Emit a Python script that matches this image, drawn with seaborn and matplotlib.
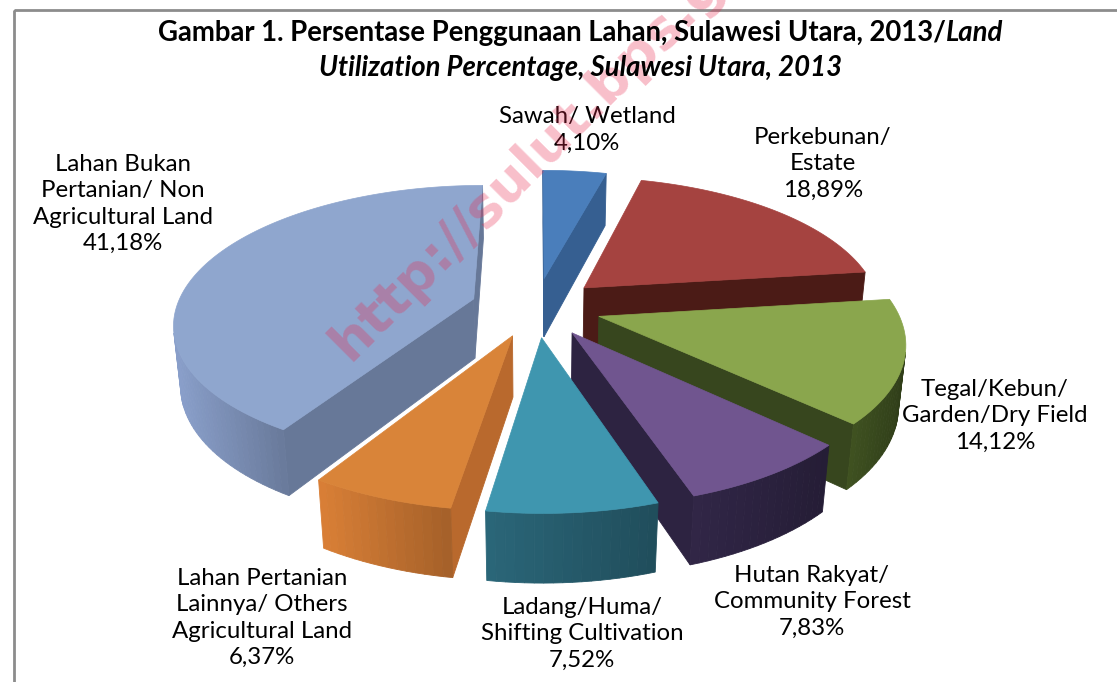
import numpy as np
import matplotlib
matplotlib.use("Agg")
import matplotlib.pyplot as plt
import seaborn as sns
from matplotlib.colors import to_rgb
from matplotlib.patches import Polygon, Rectangle

# data
categories = [
    "Sawah/ Wetland",
    "Perkebunan/\nEstate",
    "Tegal/Kebun/\nGarden/Dry Field",
    "Hutan Rakyat/\nCommunity Forest",
    "Ladang/Huma/\nShifting Cultivation",
    "Lahan Pertanian\nLainnya/ Others\nAgricultural Land",
    "Lahan Bukan\nPertanian/ Non\nAgricultural Land",
]
shares = [4.10, 18.89, 14.12, 7.83, 7.52, 6.37, 41.18]

title_main = "Gambar 1. Persentase Penggunaan Lahan, Sulawesi Utara, 2013/"
title_italic_1 = "Land"
title_italic_2 = "Utilization Percentage, Sulawesi Utara, 2013"
watermark = "http://sulut.bps.go.id"

# styles
top_colors = ["#4A7EBB", "#A54340", "#8AA64D", "#70558F", "#3F96AF", "#D98439", "#8FA6CE"]
radial_colors = ["#365F91", "#4B1B16", "#37461E", "#2D2341", "#2B6577", "#B9692D", "#677898"]
arc_colors = ["#365F91", "#4B1B16", "#3A4B1E", "#2D2341", "#275E6F", "#C87532", "#8094BC"]
label_xy = [(587, 130), (823, 164), (995, 416), (812, 602), (582, 634), (262, 618), (123, 204)]

W, H = 1117, 682
CX, CY = 536, 307          # pie centre on screen (px)
F, D = 1590, 5.35          # focal length, camera distance
TILT = np.radians(27)
THICK = 0.23
EXPLODE = 0.22

sns.set_theme(style="white")
plt.rcParams["font.family"] = ["Lato", "DejaVu Sans"]

sin_t, cos_t = np.sin(TILT), np.cos(TILT)
eye = np.array([0.0, -D * cos_t, D * sin_t])


def project(p):
    X, Y, Z = p
    zc = D + Y * cos_t - Z * sin_t
    return CX + F * X / zc, CY - F * (Y * sin_t + Z * cos_t) / zc


def depth(p):
    return D + p[1] * cos_t - p[2] * sin_t


def visible(normal, point):
    return np.dot(normal, eye - point) > 0


def shade(c, f):
    return tuple(np.clip(np.array(to_rgb(c)) * f, 0, 1))


fig = plt.figure(figsize=(W / 100, H / 100), dpi=100)
ax = fig.add_axes([0, 0, 1, 1])
ax.set_xlim(0, W)
ax.set_ylim(H, 0)
ax.axis("off")

# chart frame
ax.add_patch(Rectangle((14, 10), 1400, 1000, fill=False, edgecolor="#8c8c8c", lw=2))

# slice angles: start at 12 o'clock, clockwise
cum = np.concatenate([[0], np.cumsum(shares)]) / sum(shares) * 360
slices = []
for i in range(len(shares)):
    a1 = np.radians(90 - cum[i])
    a0 = np.radians(90 - cum[i + 1])
    mid = (a0 + a1) / 2
    off = EXPLODE * np.array([np.cos(mid), np.sin(mid), 0.0])
    cen = off + 0.5 * np.array([np.cos(mid), np.sin(mid), 0.0])
    slices.append((depth(cen), i, a0, a1, off))

# painter's order: far slices first
for _, i, a0, a1, off in sorted(slices, key=lambda s: -s[0]):
    n = max(3, int(np.degrees(a1 - a0) / 1.5))
    th = np.linspace(a0, a1, n + 1)
    rim = [off + np.array([np.cos(t), np.sin(t), 0.0]) for t in th]
    down = np.array([0, 0, -THICK])

    # radial walls
    for ang, rp, sgn in [(a0, rim[0], -1), (a1, rim[-1], 1)]:
        nrm = np.array([np.cos(ang + sgn * np.pi / 2), np.sin(ang + sgn * np.pi / 2), 0])
        pts = [off, rp, rp + down, off + down]
        if visible(nrm, (off + rp) / 2 + down / 2):
            ax.add_patch(Polygon([project(p) for p in pts], closed=True,
                                 facecolor=radial_colors[i], edgecolor=radial_colors[i], lw=0.6))

    # outer curved wall
    facets = []
    for j in range(n):
        tm = (th[j] + th[j + 1]) / 2
        nrm = np.array([np.cos(tm), np.sin(tm), 0])
        pts = [rim[j], rim[j + 1], rim[j + 1] + down, rim[j] + down]
        if visible(nrm, (rim[j] + rim[j + 1]) / 2 + down / 2):
            facets.append([project(p) for p in pts])
    if facets:
        xs = [np.mean([q[0] for q in f]) for f in facets]
        lo, hi = min(xs), max(xs) + 1e-6
        for f, x in zip(facets, xs):
            c = shade(arc_colors[i], 1.08 - 0.25 * (x - lo) / (hi - lo))
            ax.add_patch(Polygon(f, closed=True, facecolor=c, edgecolor=c, lw=0.6))

    # top face
    top = [project(off)] + [project(p) for p in rim]
    ax.add_patch(Polygon(top, closed=True, facecolor=top_colors[i],
                         edgecolor=top_colors[i], lw=0.5))

# data labels
for name, v, (lx, ly) in zip(categories, shares, label_xy):
    txt = name + "\n" + f"{v:.2f}".replace(".", ",") + "%"
    ax.text(lx, ly, txt, ha="center", va="center", multialignment="center",
            fontsize=17.3, linespacing=1.3, color="black")

# watermark (runs off the top edge, as in the source image)
ax.text(350, 362, watermark, rotation=45, rotation_mode="anchor", ha="left",
        va="baseline", fontsize=39, fontweight="bold", family="DejaVu Sans",
        color="#e8294f", alpha=0.3)

# title (bold + bold italic pieces, centred together)
fs = 19.8
t1 = fig.text(0, 1 - 33 / H, title_main, fontsize=fs, fontweight="bold",
              va="center", color="black")
t2 = fig.text(0, 1 - 33 / H, title_italic_1, fontsize=fs, fontweight="bold",
              fontstyle="italic", va="center", color="black")
t3 = fig.text(581 / W, 1 - 68 / H, title_italic_2, fontsize=fs, fontweight="bold",
              fontstyle="italic", va="center", ha="center", color="black")
fig.canvas.draw()
r = fig.canvas.get_renderer()
w1 = t1.get_window_extent(r).width
w2 = t2.get_window_extent(r).width
x0 = 581 - (w1 + w2) / 2
t1.set_x(x0 / W)
t2.set_x((x0 + w1) / W)

fig.savefig("out.png", dpi=100)
